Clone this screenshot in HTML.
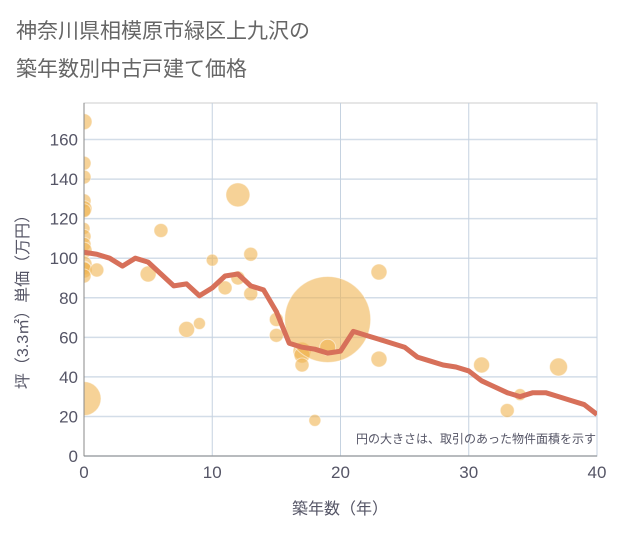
<!DOCTYPE html>
<html><head><meta charset="utf-8"><style>
body{margin:0;background:#fff;font-family:"Liberation Sans","Noto Sans CJK JP",sans-serif}
</style></head><body>
<svg width="621" height="530" xmlns="http://www.w3.org/2000/svg" font-family="Liberation Sans, Noto Sans CJK JP, sans-serif">
<defs><clipPath id="plotclip"><rect x="84" y="103" width="513" height="353"/></clipPath></defs>
<rect width="621" height="530" fill="#fff"/>
<text x="16" y="38" font-size="21" fill="#666">神奈川県相模原市緑区上九沢の</text>
<text x="16" y="76" font-size="21" fill="#666">築年数別中古戸建て価格</text>
<g id="grid"></g><g id="bubbles" clip-path="url(#plotclip)"></g><g id="line" clip-path="url(#plotclip)"></g><g id="axes"></g>
<text x="596" y="443" font-size="12" fill="#556" text-anchor="end">円の大きさは、取引のあった物件面積を示す</text>
<text x="340" y="514" font-size="16" fill="#556" text-anchor="middle">築年数（年）</text>
<text transform="translate(28,298) rotate(-90)" font-size="16" fill="#556" text-anchor="middle">坪（3.3㎡）単価（万円）</text>
</svg>
<script>
const xTicks=[0,10,20,30,40];
const yTicks=[0,20,40,60,80,100,120,140,160];
const lineYears=[0,1,2,3,4,5,6,7,8,9,10,11,12,13,14,15,16,17,18,19,20,21,22,23,24,25,26,27,28,29,30,31,32,33,34,35,36,37,38,39,40];
const lineValues=[103,102,100,96,100,98,92,86,87,81,85,91,92,86,84,73,57,55,54,52,53,63,61,59,57,55,50,48,46,45,43,38,35,32,30,32,32,30,28,26,21];
const bubbleYears=[0,0,0,0,0,0,0,0,0,0,0,0,0,0,0,1,5,6,8,9,10,11,12,12,13,13,15,15,17,17,17,18,19,19,23,23,31,33,34,37];
const bubbleValues=[169,148,141,129,125,124,115,111,107,104,97,95,94,91,29,94,92,114,64,67,99,85,132,90,102,82,69,61,53,51,46,18,69,55,93,49,46,23,31,45];
const bubbleSizes=[8,7,7,7,8,7,6,7,7,8,8,7,8,7,17,7,8,7,8,6,6,7,12,7,7,7,7,7,9,8,7,6,43,8,8,8,8,7,6,9];
const NS="http://www.w3.org/2000/svg";
const X0=84,X1=597,Y0=456,YT=139.5;
const sx=v=>X0+(X1-X0)*v/40;
const sy=v=>Y0-(Y0-YT)*v/160;
function mk(t,a,p){const e=document.createElementNS(NS,t);for(const k in a)e.setAttribute(k,a[k]);p.appendChild(e);return e;}
const grid=document.getElementById('grid'),axes=document.getElementById('axes');
mk('rect',{x:X0,y:103,width:X1-X0,height:Y0-103,fill:'#fff',stroke:'#ccc'},grid);
yTicks.forEach(t=>{const l=mk('line',{x1:X0,x2:X1,y1:sy(t),y2:sy(t),stroke:'#d3dde8','stroke-width':1.5},grid);


const tx=mk('text',{x:X0-6,y:sy(t)+6,'font-size':17,fill:'#556','text-anchor':'end'},axes);tx.textContent=t;

});
xTicks.forEach(t=>{const l=mk('line',{x1:sx(t),x2:sx(t),y1:103,y2:Y0,stroke:'#c5d2e0','stroke-width':1},grid);


const tx=mk('text',{x:sx(t),y:Y0+22,'font-size':17,fill:'#556','text-anchor':'middle'},axes);tx.textContent=t;

});
mk('line',{x1:X0,x2:X0,y1:103,y2:Y0,stroke:'#888'},axes);
mk('line',{x1:X0,x2:X1,y1:Y0,y2:Y0,stroke:'#888'},axes);
const bg=document.getElementById('bubbles');
bubbleYears.forEach((yr,i)=>{const c=mk('circle',{cx:sx(yr),cy:sy(bubbleValues[i]),r:bubbleSizes[i],fill:'#f0b452','fill-opacity':0.6,stroke:'#fff','stroke-opacity':0.5},bg);

});
const pl=mk('polyline',{points:lineYears.map((y,i)=>sx(y)+','+sy(lineValues[i])).join(' '),fill:'none',stroke:'#d7705a','stroke-width':5,'stroke-linejoin':'round'},document.getElementById('line'));


</script>
</body></html>
